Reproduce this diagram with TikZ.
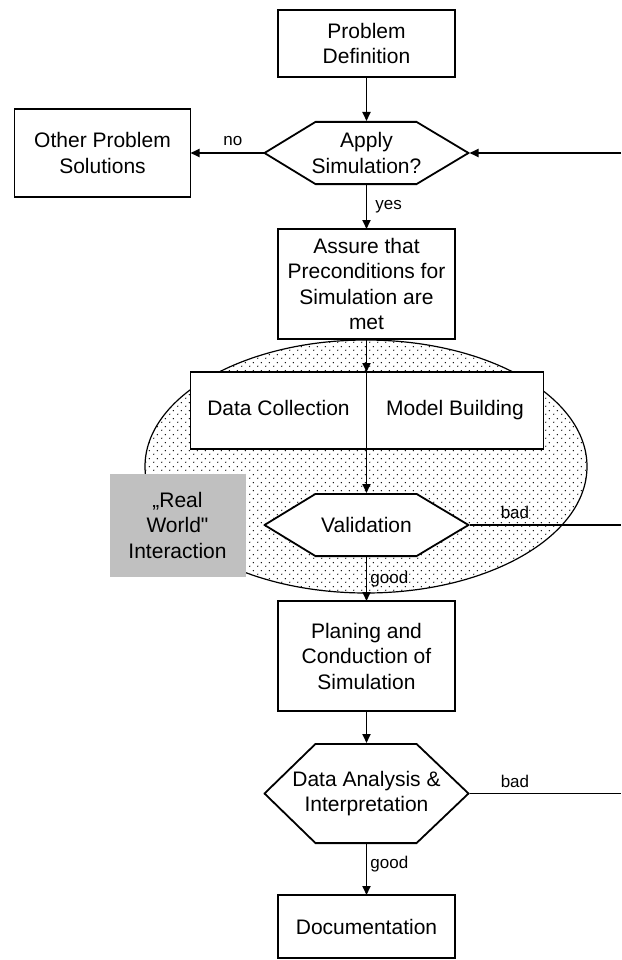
\documentclass[tikz,border=0pt]{standalone}
\usepackage{fontspec}
\setmainfont{Liberation Sans}
\usepackage{tikz}
\usetikzlibrary{positioning, arrows.meta, patterns.meta}
\definecolor{worldgray}{RGB}{192,192,192}
\newcommand{\flowfont}{\fontsize{21}{25.5}\selectfont}
\newcommand{\tagfont}{\fontsize{17}{20}\selectfont}
\tikzdeclarepattern{name=simdots, type=uncolored, bounding box={(0pt,0pt) and (8pt,8pt)}, tile size={(8pt,8pt)},
  code={\fill (2pt,2pt) circle [radius=.8pt]; \fill (6pt,6pt) circle [radius=.8pt];}}
\tikzset{process box/.style={draw=black, fill=white, rectangle, outer sep=0pt, minimum width=177pt, align=center, font=\flowfont, line width=1.8pt}}
\tikzset{world box/.style={fill=worldgray, rectangle, outer sep=0pt, minimum width=136pt, minimum height=103pt, align=center, font=\flowfont}}
\tikzset{decision hexagon/.style={rectangle, outer sep=0pt, inner sep=0pt, minimum width=206pt, minimum height=#1, align=center, font=\flowfont,
  path picture={\filldraw[fill=white, line width=1.8pt] ([xshift=1pt]path picture bounding box.west)
    -- ([xshift=52pt,yshift=-.9pt]path picture bounding box.north west)
    -- ([xshift=-53pt,yshift=-.9pt]path picture bounding box.north east)
    -- ([xshift=-1pt]path picture bounding box.east)
    -- ([xshift=-53pt,yshift=.9pt]path picture bounding box.south east)
    -- ([xshift=52pt,yshift=.9pt]path picture bounding box.south west) -- cycle;}}}
\tikzset{tag/.style={font=\tagfont, inner sep=2pt}}

\begin{document}
\begin{tikzpicture}[x=1pt, y=1pt, node distance=44pt, line width=1.8pt, >={Triangle[length=9pt,width=8pt]}]
\useasboundingbox (0,0) rectangle (621,-960);
\coordinate (right edge) at (621,0);
\node[process box, minimum height=67pt] (problem) at (366.5,-43.5) {Problem\\Definition};
\node[decision hexagon=64pt, below=of problem] (apply) {Apply\\Simulation?};
\node[process box, minimum width=176pt, minimum height=88pt, left=73pt of apply] (other) {Other Problem\\Solutions};
\node[process box, minimum height=110pt, below=of apply] (assure) {Assure that\\Preconditions for\\Simulation are\\met};
% dotted region
\draw[line width=1.2pt, pattern=simdots, pattern color=black] (366,-466.5) ellipse [x radius=221, y radius=126.5];
\node[process box, minimum width=176pt, minimum height=77pt, below left=33pt and 0pt of assure.south] (collect) {\strut Data Collection};
\node[process box, minimum width=177pt, minimum height=77pt, right=0pt of collect] (model) {\strut Model Building};
\node[decision hexagon=64pt, below=44pt of collect.south east] (valid) {Validation};
\node[world box, left=18pt of valid] (world) {„Real\\World\textquotedbl\\Interaction};
\node[process box, minimum height=110pt, below=of valid] (plan) {Planing and\\Conduction of\\Simulation};
\node[decision hexagon=101pt, below=32pt of plan] (analysis) {Data Analysis \&\\Interpretation};
\node[process box, minimum height=63pt, below=51pt of analysis] (doc) {Documentation};
\draw[->] (problem) -- (apply);
\draw[->] (apply) -- node[tag, above=4pt, pos=0.42] {no} (other);
\draw[->] (apply) -- node[tag, right=6pt] {yes} (assure);
\draw[->] (apply.east -| right edge) -- (apply);
\draw[->] (assure) -- (collect.north east);
\draw[->] (collect.south east) -- (valid);
\draw[->] (valid) -- node[tag, right=1pt] {good} (plan);
\draw (valid) -- node[tag, above=3pt, pos=0.3] {bad} (valid.east -| right edge);
\draw[->] (plan) -- (analysis);
\draw[->] (analysis) -- node[tag, right=1pt, pos=0.4] {good} (doc);
\draw (analysis) -- node[tag, above=3pt, pos=0.3] {bad} (analysis.east -| right edge);
\end{tikzpicture}
\end{document}
